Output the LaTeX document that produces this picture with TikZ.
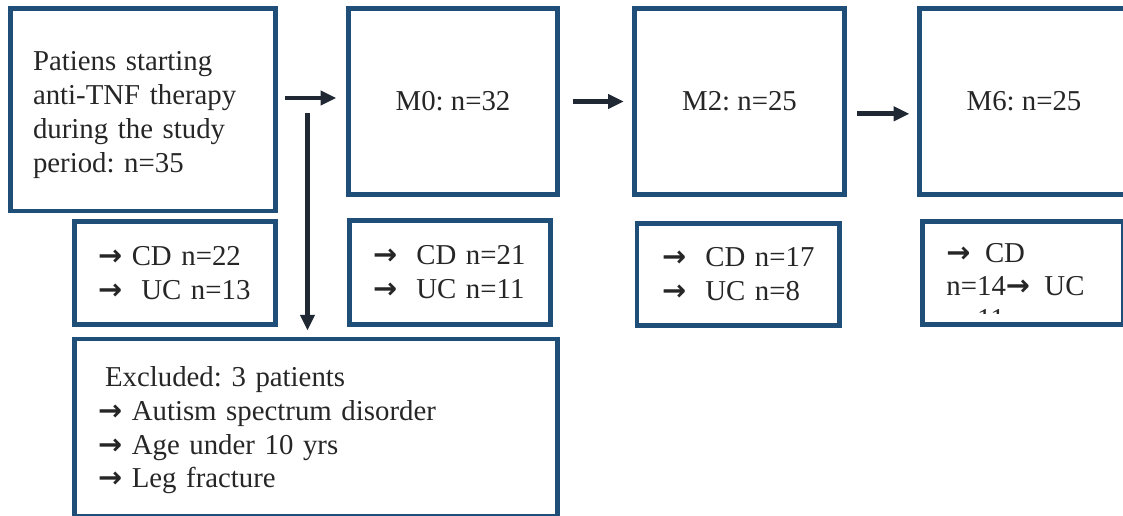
\documentclass[tikz,border=0pt]{standalone}
\usepackage{fontspec}
\setmainfont{Liberation Serif}
\newfontfamily\arrowfont{DejaVu Sans}
\usetikzlibrary{arrows.meta}
\newcommand\arrowsym{{\arrowfont\bfseries →}}
\definecolor{boxblue}{RGB}{31,78,121}
\definecolor{arrowdark}{RGB}{32,40,52}
\definecolor{textdark}{RGB}{38,38,38}

\begin{document}
\begin{tikzpicture}[x=0.02cm,y=-0.02cm,
    box/.style={draw=boxblue,line width=2.8pt,inner sep=0pt,text=textdark,
      font=\fontsize{16.4}{19.3}\selectfont\frenchspacing},
    flowarrow/.style={draw=arrowdark,line width=2.8pt,-{Triangle[length=9pt,width=8pt]}}]
    \clip (0,0) rectangle (1123,515);
    % top row
    \node[box,minimum width=5.3cm,minimum height=4.05cm,text width=4.4cm,align=left] (start) at (143,109.75)
      {\rule{0pt}{16.9pt}Patiens starting\\anti-TNF therapy\\during the study\\period: n=35};
    \foreach \name/\x/\txt in {m0/453/{M0: n=32},m2/739.5/{M2: n=25},m6/1024/{M6: n=25}}
    \node[box,minimum width=4.19cm,minimum height=3.72cm] (\name) at (\x,101.5) {\txt};
    % counts
    \node[box,minimum width=4.02cm,minimum height=2.06cm,text width=3.08cm,align=left] (s0) at (175,273)
      {\arrowsym{} CD n=22\\\arrowsym\ \ UC n=13};
    \node[box,minimum width=4.02cm,minimum height=2.08cm,text width=3.08cm,align=left] (s1) at (450,272.5)
      {\arrowsym\ \ CD n=21\\\arrowsym\ \ UC n=11};
    \node[box,minimum width=4.05cm,minimum height=2.04cm,text width=3.05cm,align=left] (s2) at (738.25,274.5)
      {\arrowsym\ \ CD n=17\\\arrowsym\ \ UC n=8};
    \node[box,minimum width=4.02cm,minimum height=2.06cm] (s3) at (1023,273) {};
    \begin{scope}
      \clip (925,224) rectangle (1123,313);
      \node[box,draw=none,anchor=north west,align=left,font=\fontsize{16.4}{18.7}\selectfont\frenchspacing] (s3text) at (944,241)
        {\arrowsym\ \ CD\\n=14\arrowsym\ \ UC\\n=11};
    \end{scope}
    % excluded
    \node[box,minimum width=9.66cm,minimum height=3.54cm,text width=8.72cm,align=left,
      font=\fontsize{16.4}{19.2}\selectfont\frenchspacing] (excl) at (316,427.5)
      {\rule{0pt}{14.6pt}\hspace*{4pt}Excluded: 3 patients\\\arrowsym{} Autism spectrum disorder\\\arrowsym{} Age under 10 yrs\\\arrowsym{} Leg fracture};
    % arrows
    \coordinate (a0) at ([yshift=2pt]m0.west);
    \draw[flowarrow,shorten <=4.25pt,shorten >=5.4pt] (a0 -| start.east) -- (a0);
    \draw[flowarrow,shorten <=7.1pt,shorten >=4.8pt] (m0.east) -- (m2.west);
    \coordinate (a2) at ([yshift=-7pt]m2.east);
    \draw[flowarrow,shorten <=6pt,shorten >=4.25pt] (a2) -- (a2 -| m6.west);
    \coordinate (split) at (307.5,113);
    \draw[flowarrow,shorten >=3.4pt] (split) -- (split |- excl.north);
\end{tikzpicture}
\end{document}
